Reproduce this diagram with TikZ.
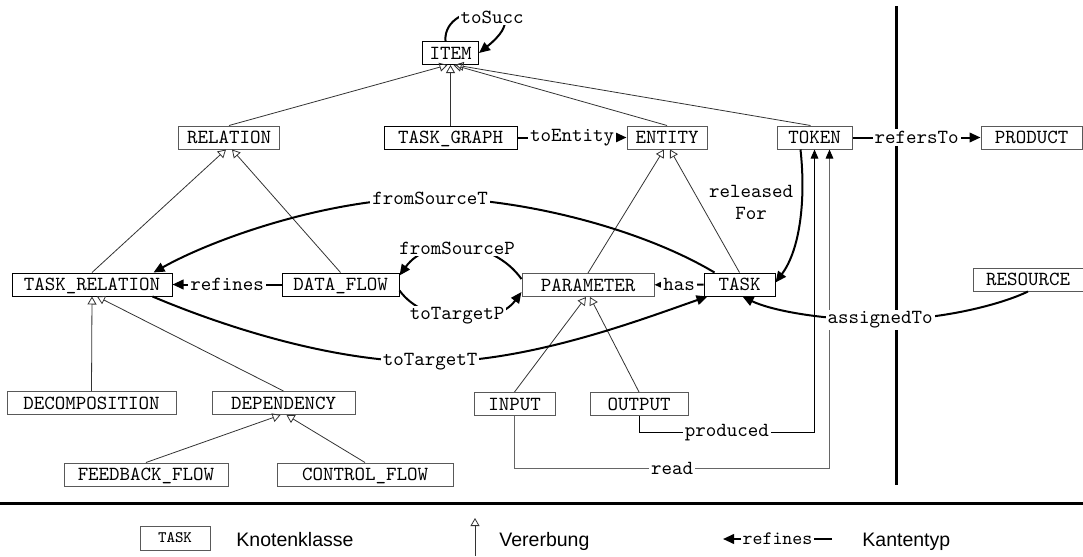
\documentclass[tikz,border=0pt]{standalone}
\usepackage{fontspec}
\setmainfont{Liberation Sans}
\usetikzlibrary{arrows.meta,calc}
\newcommand\classfont{\ttfamily\fontsize{10}{11}\selectfont}
\begin{document}
\begin{tikzpicture}[x=0.5pt,y=-0.5pt,
  cls/.style={draw=black!65, line width=0.5pt, inner sep=0pt, minimum height=11.5pt,
    text height=6.1pt, text depth=0pt, font=\classfont},
  strong/.style={draw=black},
  isa/.style={draw=black!80, line width=0.4pt, -{Triangle[open,length=4pt,width=4.5pt]}},
  assoc/.style={draw=black, line width=1pt, -{Triangle[length=5.5pt,width=4.8pt]}},
  flow/.style={line width=0.5pt, -{Triangle[length=4.5pt,width=3.8pt,color=black]}},
  lbl/.style={fill=white, inner sep=1pt, font=\classfont},
  legtext/.style={font=\fontsize{9.75}{11}\selectfont, anchor=base west, inner sep=0pt}
]
\useasboundingbox (0,0) rectangle (1083,557);

% separators
\draw[line width=1.5pt] (896,6) -- (896,485);
\draw[line width=1.5pt] (0,503) -- (1083,503);

% classes
\node[cls, strong, minimum width=28pt] (item) at (450.5,53) {ITEM};
\node[cls, minimum width=50.5pt] (relation)      at (229,137.5) {RELATION};
\node[cls, strong, minimum width=66.5pt] (taskgraph) at (450.5,137.5) {TASK\_GRAPH};
\node[cls, minimum width=40pt]   (entity)        at (667,137.5) {ENTITY};
\node[cls, minimum width=37.5pt] (token)         at (814.5,137.5) {TOKEN};
\node[cls, minimum width=50.5pt] (product)       at (1031.5,137.5) {PRODUCT};
\node[cls, strong, minimum width=80pt] (taskrel) at (92,284.5)  {TASK\_RELATION};
\node[cls, strong, minimum width=58.5pt] (dataflow) at (340.5,284.5) {DATA\_FLOW};
\node[cls, minimum width=66pt]   (parameter)     at (588,285)   {PARAMETER};
\node[cls, strong, minimum width=35.5pt] (task)  at (739.5,284.5) {TASK};
\node[cls, minimum width=55pt]   (resource)      at (1028,279.5) {RESOURCE};
\node[cls, minimum width=84.5pt] (decomposition) at (91.5,403)  {DECOMPOSITION};
\node[cls, minimum width=71.5pt] (dependency)    at (283.5,403) {DEPENDENCY};
\node[cls, minimum width=40.5pt] (input)         at (514.5,404) {INPUT};
\node[cls, minimum width=49pt]   (output)        at (639,404)   {OUTPUT};
\node[cls, minimum width=82pt]   (feedback)      at (146,474.5) {FEEDBACK\_FLOW};
\node[cls, minimum width=88pt]   (controlflow)   at (365,474.5) {CONTROL\_FLOW};

% inheritance
\draw[isa] (relation.north) -- ($(item.south)+(-3,0)$);
\draw[isa] (taskgraph.north) -- (item.south);
\draw[isa] (entity.north) -- ($(item.south)+(3,0)$);
\draw[isa] ($(token.north)+(-4,0)$) -- ($(item.south)+(5,0)$);
\draw[isa] (taskrel.north) -- ($(relation.south)+(-3,0)$);
\draw[isa] (dataflow.north) -- ($(relation.south)+(3,0)$);
\draw[isa] (parameter.north) -- ($(entity.south)+(-3,0)$);
\draw[isa] (task.north) -- ($(entity.south)+(3,0)$);
\draw[isa] (decomposition.north) -- (taskrel.south);
\draw[isa] (dependency.north) -- ($(taskrel.south)+(5,0)$);
\draw[isa] (feedback.north) -- ($(dependency.south)+(-3,0)$);
\draw[isa] (controlflow.north) -- ($(dependency.south)+(3,0)$);
\draw[isa] (input.north) -- ($(parameter.south)+(-2,0)$);
\draw[isa] (output.north) -- ($(parameter.south)+(2,0)$);

% produced / read
\coordinate (pc) at ($(token.south)+(0,283)$);
\coordinate (rc) at ($(token.south)+(15,319)$);
\draw[flow, draw=black] (output.south) |- node[lbl, pos=0.75] {produced} (pc) -- (token.south);
\draw[flow, draw=black!60] (input.south) |- node[lbl, pos=0.75] {read} (rc) -- ($(token.south)+(15,0)$);

% straight associations
\draw[assoc] (taskgraph) -- node[lbl] {toEntity} (entity);
\draw[assoc] (token) -- node[lbl] {refersTo} (product);
\draw[assoc] (dataflow) -- node[lbl] {refines} (taskrel);
\draw[assoc] (task) -- node[lbl] {has} (parameter);

% curved associations
\draw[assoc] ($(item.north)+(-5,0)$) .. controls (442,-2) and (545,0) .. (item.east);
\node[lbl] (tosucc) at (492,17) {toSucc};

\coordinate (fst) at (430,198);
\draw[assoc] ($(task.north west)+(11,0)$) .. controls (640,228) and (520,198) .. (fst)
  .. controls (330,198) and (215,238) .. ($(taskrel.north east)+(-19,0)$);
\node[lbl] at (fst) {fromSourceT};

\coordinate (ttt) at (430,362);
\draw[assoc] ($(taskrel.south east)+(-20,0)$) .. controls (220,325) and (330,362) .. (ttt)
  .. controls (530,362) and (640,320) .. ($(task.south west)+(4,0)$);
\node[lbl] at (ttt) {toTargetT};

\draw[assoc] ($(parameter.west)+(0,-6)$) .. controls (492,238) and (428,236) .. ($(dataflow.east)+(0,-9)$);
\node[lbl] at (457,248) {fromSourceP};

\draw[assoc] ($(dataflow.east)+(0,6)$) .. controls (425,326) and (495,328) .. ($(parameter.west)+(0,7)$);
\node[lbl] at (457,316) {toTargetP};

\draw[assoc] ($(token.south)+(-14,0)$) .. controls (806,200) and (800,250) .. ($(task.east)+(0,-2)$);
\node[align=center, inner sep=0pt, font=\classfont] (relfor) at (751,202) {released\\For};

\coordinate (asg) at (880,320);
\draw[assoc] (resource.south) .. controls (1000,305) and (940,320) .. (asg)
  .. controls (820,320) and (770,310) .. ($(task.south)+(3,0)$);
\node[lbl] at (asg) {assignedTo};

% legend
\node[cls, minimum width=35pt, minimum height=12pt, text height=4.8pt,
  font=\ttfamily\fontsize{8}{9}\selectfont] (lgtask) at (175,538) {TASK};
\node[legtext] (lgk) at (236,546) {Knotenklasse};
\coordinate (lgib) at (475,556);
\coordinate (lgit) at (475,518);
\draw[isa] (lgib) -- (lgit);
\node[legtext] (lgv) at (499,546) {Vererbung};
\coordinate (lgaE) at (832,539);
\coordinate (lgaW) at (723,539);
\draw[assoc] (lgaE) -- node[lbl, font=\ttfamily\fontsize{9.5}{10}\selectfont] {refines} (lgaW);
\node[legtext] (lgkt) at (862,546) {Kantentyp};
\end{tikzpicture}
\end{document}
